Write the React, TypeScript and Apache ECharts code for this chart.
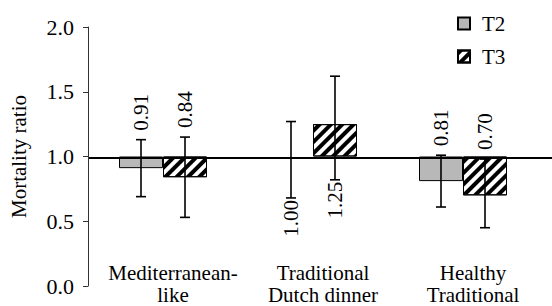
import React, { useEffect, useRef } from 'react';
import * as echarts from 'echarts';

const categories = ['Mediterranean-\nlike', 'Traditional\nDutch dinner', 'Healthy\nTraditional'];
const seriesNames = ['T2', 'T3'];
const t2Values = [0.91, 1.0, 0.81];
const t2Lower = [0.69, 0.68, 0.61];
const t2Upper = [1.13, 1.27, 1.01];
const t3Values = [0.84, 1.25, 0.7];
const t3Lower = [0.53, 0.82, 0.45];
const t3Upper = [1.15, 1.62, 0.98];
const referenceValue = 1.0;
const yMin = 0;
const yMax = 2;
const yInterval = 0.5;

const FONT = "'Liberation Serif', 'Times New Roman', serif";

export default function App() {
  const ref = useRef<HTMLDivElement>(null);

  useEffect(() => {
    if (!ref.current) return;
    const chart = echarts.init(ref.current, null, { renderer: 'svg' });

    const BAR_W = 44;
    const bases = (vals: number[]) => vals.map((v) => (v === referenceValue ? null : Math.min(v, referenceValue)));
    const heights = (vals: number[]) => vals.map((v) => (v === referenceValue ? null : Math.abs(v - referenceValue)));

    const errSeries = (name: string, vals: number[], lo: number[], hi: number[], offset: number) => ({
      type: 'custom',
      name: name + ' CI',
      xAxisIndex: 0,
      yAxisIndex: 0,
      z: 5,
      silent: true,
      encode: { x: 0, y: [2, 3] },
      data: vals.map((v, i) => [i, v, lo[i], hi[i]]),
      renderItem: (params: any, api: any) => {
        const idx = api.value(0);
        const v = api.value(1);
        const l = api.value(2);
        const h = api.value(3);
        const pHi = api.coord([idx, h]);
        const pLo = api.coord([idx, l]);
        const cx = pHi[0] + offset;
        const cap = 5;
        const ls = { stroke: '#000', lineWidth: 1.6 };
        const above = v < referenceValue;
        return {
          type: 'group',
          children: [
            { type: 'line', shape: { x1: cx, y1: pHi[1], x2: cx, y2: pLo[1] }, style: ls },
            { type: 'line', shape: { x1: cx - cap, y1: pHi[1], x2: cx + cap, y2: pHi[1] }, style: ls },
            { type: 'line', shape: { x1: cx - cap, y1: pLo[1], x2: cx + cap, y2: pLo[1] }, style: ls },
            {
              type: 'text',
              x: cx,
              y: above ? pHi[1] - 9 : pLo[1] + 2,
              rotation: Math.PI / 2,
              style: {
                text: v.toFixed(2),
                fontSize: 21,
                fontFamily: FONT,
                fill: '#000',
                align: above ? 'left' : 'right',
                verticalAlign: 'middle',
              },
            },
          ],
        };
      },
    });

    chart.setOption({
      animation: false,
      backgroundColor: '#fff',
      textStyle: { fontFamily: FONT },
      legend: {
        data: seriesNames,
        orient: 'vertical',
        left: 452,
        top: 8,
        itemWidth: 12,
        itemHeight: 12,
        itemGap: 12,
        icon: 'rect',
        textStyle: { fontSize: 21, fontFamily: FONT, color: '#000', padding: [0, 0, 0, 7] },
      },
      grid: [
        { left: 85, right: 14, top: 27, bottom: 17 },
        { left: 89, right: 0, top: 27, bottom: 17 },
      ],
      xAxis: [
        {
          type: 'category',
          gridIndex: 0,
          data: categories,
          axisLine: { show: false },
          axisTick: { show: false },
          axisLabel: {
            fontSize: 21,
            fontFamily: FONT,
            color: '#000',
            lineHeight: 22,
            margin: -24,
            padding: [0, 0, 0, 20],
            interval: 0,
          },
        },
        { type: 'value', gridIndex: 1, min: 0, max: 1, show: false },
      ],
      yAxis: [
        {
          type: 'value',
          gridIndex: 0,
          min: yMin,
          max: yMax,
          interval: yInterval,
          name: 'Mortality ratio',
          nameLocation: 'middle',
          nameGap: 59,
          nameTextStyle: { fontSize: 21, fontFamily: FONT, color: '#000' },
          axisLine: { show: true, lineStyle: { color: '#333', width: 1 } },
          axisTick: { show: true, length: 5, lineStyle: { color: '#333' } },
          splitLine: { show: false },
          axisLabel: {
            fontSize: 22,
            fontFamily: FONT,
            color: '#000',
            margin: 14,
            formatter: (v: number) => v.toFixed(1),
          },
        },
        { type: 'value', gridIndex: 1, min: yMin, max: yMax, show: false },
      ],
      series: [
        {
          type: 'bar',
          name: 'base2',
          stack: 's2',
          barWidth: BAR_W,
          barGap: '0%',
          silent: true,
          itemStyle: { color: 'transparent' },
          data: bases(t2Values),
        },
        {
          type: 'bar',
          name: 'T2',
          stack: 's2',
          barWidth: BAR_W,
          barGap: '0%',
          itemStyle: { color: '#b8b8b8', borderColor: '#000', borderWidth: 1 },
          data: heights(t2Values),
        },
        {
          type: 'bar',
          name: 'base3',
          stack: 's3',
          barWidth: BAR_W,
          barGap: '0%',
          silent: true,
          itemStyle: { color: 'transparent' },
          data: bases(t3Values),
        },
        {
          type: 'bar',
          name: 'T3',
          stack: 's3',
          barWidth: BAR_W,
          barGap: '0%',
          itemStyle: {
            color: '#fff',
            borderColor: '#000',
            borderWidth: 1,
            decal: {
              symbol: 'rect',
              symbolSize: 1,
              dashArrayX: [1, 0],
              dashArrayY: [4, 4],
              rotation: -Math.PI / 4,
              color: '#000',
            },
          },
          data: heights(t3Values),
        },
        errSeries('T2', t2Values, t2Lower, t2Upper, -BAR_W / 2),
        errSeries('T3', t3Values, t3Lower, t3Upper, BAR_W / 2),
        {
          type: 'line',
          name: 'reference',
          xAxisIndex: 1,
          yAxisIndex: 1,
          z: 6,
          silent: true,
          symbol: 'none',
          lineStyle: { color: '#000', width: 2 },
          data: [
            [0, referenceValue],
            [1, referenceValue],
          ],
        },
      ],
    });

    return () => chart.dispose();
  }, []);

  return <div ref={ref} style={{ width: 552, height: 306, position: 'absolute', left: 0, top: 0 }} />;
}
